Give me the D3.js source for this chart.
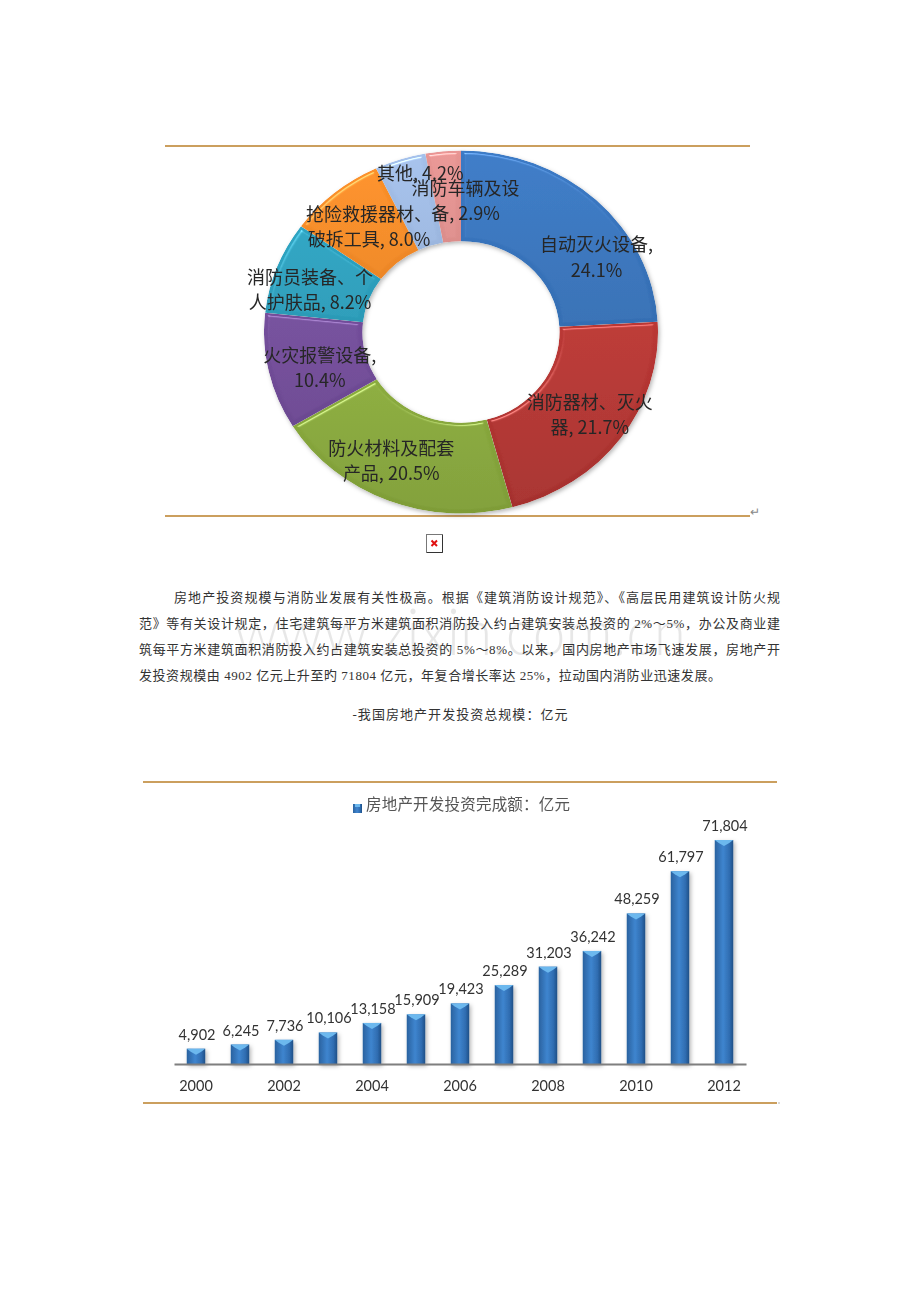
<!DOCTYPE html>
<html lang="zh">
<head>
<meta charset="UTF-8">
<title>消防业与房地产开发投资</title>
<script src="https://cdn.jsdelivr.net/npm/d3@7/dist/d3.min.js"></script>
<style>
    html, body { margin: 0; padding: 0; background: #fff; }
    svg { display: block; }
    .cjk { font-family: "Noto Sans CJK SC", sans-serif; }
    .para { font-family: "Liberation Serif", "Noto Sans CJK SC", serif; font-size: 13px; fill: #333; }
    .num { font-family: Lato, "Noto Sans CJK SC", sans-serif; }
</style>
</head>
<body>
<script>
    // donut data
    const shareNames = ['自动灭火设备', '消防器材、灭火器', '防火材料及配套产品', '火灾报警设备',
        '消防员装备、个人护肤品', '抢险救援器材、破拆工具', '其他', '消防车辆及设备'];
    const shareValues = [24.1, 21.7, 20.5, 10.4, 8.2, 8.0, 4.2, 2.9];
    const shareLabels = [
        ['自动灭火设备,', '24.1%'],
        ['消防器材、灭火', '器, 21.7%'],
        ['防火材料及配套', '产品, 20.5%'],
        ['火灾报警设备,', '10.4%'],
        ['消防员装备、个', '人护肤品, 8.2%'],
        ['抢险救援器材、', '破拆工具, 8.0%'],
        ['其他, 4.2%'],
        ['消防车辆及设', '备, 2.9%']
    ];
    const shareColors = ['#3b76bd', '#c43d3a', '#98bb45', '#7a53a3', '#2fa3c0', '#f28b2a', '#9db8e0', '#dd8f8d'];

    // bar data
    const years = [2000, 2001, 2002, 2003, 2004, 2005, 2006, 2007, 2008, 2009, 2010, 2011, 2012];
    const invest = [4902, 6245, 7736, 10106, 13158, 15909, 19423, 25289, 31203, 36242, 48259, 61797, 71804];
    const yearTicks = [2000, 2002, 2004, 2006, 2008, 2010, 2012];

    const paragraph = [
        '房地产投资规模与消防业发展有关性极高。根据《建筑消防设计规范》、《高层民用建筑设计防火规',
        '范》等有关设计规定，住宅建筑每平方米建筑面积消防投入约占建筑安装总投资的 2%～5%，办公及商业建',
        '筑每平方米建筑面积消防投入约占建筑安装总投资的 5%～8%。以来，国内房地产市场飞速发展，房地产开',
        '发投资规模由 4902 亿元上升至旳 71804 亿元，年复合增长率达 25%，拉动国内消防业迅速发展。'
    ];
    const caption = '-我国房地产开发投资总规模：亿元';
    const legendText = '房地产开发投资完成额：亿元';

    const svg = d3.select('body').append('svg').attr('width', 920).attr('height', 1302);
    const defs = svg.append('defs');

    // soft look, the source picture is a blurred scan
    defs.append('filter').attr('id', 'soft').attr('x', '-5%').attr('y', '-5%').attr('width', '110%').attr('height', '110%')
        .append('feGaussianBlur').attr('stdDeviation', 0.45);

    // bevel for donut slices
    const bevel = defs.append('filter').attr('id', 'bevel')
        .attr('color-interpolation-filters', 'sRGB')
        .attr('x', '-10%').attr('y', '-10%').attr('width', '120%').attr('height', '120%');
    bevel.append('feGaussianBlur').attr('in', 'SourceAlpha').attr('stdDeviation', 2).attr('result', 'b');
    const spec = bevel.append('feSpecularLighting').attr('in', 'b').attr('surfaceScale', 3)
        .attr('specularConstant', 0.6).attr('specularExponent', 30)
        .attr('lighting-color', '#fff').attr('result', 's');
    spec.append('feDistantLight').attr('azimuth', 250).attr('elevation', 50);
    bevel.append('feComposite').attr('in', 's').attr('in2', 'SourceAlpha').attr('operator', 'in').attr('result', 's2');
    bevel.append('feComposite').attr('in', 'SourceGraphic').attr('in2', 's2').attr('result', 'lit')
        .attr('operator', 'arithmetic').attr('k1', 0).attr('k2', 1).attr('k3', 0.6).attr('k4', -0.055);
    bevel.append('feComposite').attr('in', 'lit').attr('in2', 'SourceAlpha').attr('operator', 'in');

    const dropShadow = defs.append('filter').attr('id', 'shade')
        .attr('x', '-20%').attr('y', '-20%').attr('width', '140%').attr('height', '140%');
    dropShadow.append('feDropShadow').attr('dx', 1.5).attr('dy', 2).attr('stdDeviation', 2)
        .attr('flood-color', '#000').attr('flood-opacity', 0.3);

    // gold rules
    const rules = [
        {x1: 165, x2: 750, y: 146},
        {x1: 165, x2: 750, y: 516},
        {x1: 143, x2: 777, y: 782},
        {x1: 143, x2: 777, y: 1103}
    ];
    svg.selectAll('line.rule').data(rules).enter().append('line').attr('class', 'rule')
        .attr('x1', d => d.x1).attr('x2', d => d.x2).attr('y1', d => d.y).attr('y2', d => d.y)
        .attr('stroke', '#cb9f5e').attr('stroke-width', 2);

    // ---- donut ----
    // the ring is a little flattened in the picture, so y gets squeezed
    const rx = 197, ry = 181.5;
    const cx = 461, cy = 332;
    const squeeze = ry / rx;
    const pie = d3.pie().sort(null)(shareValues);
    const arc = d3.arc().innerRadius(rx * 0.5).outerRadius(rx);
    const labelArc = d3.arc().innerRadius(rx * 0.75).outerRadius(rx * 0.75);

    shareColors.forEach((c, i) => {
        const g = defs.append('linearGradient').attr('id', 'slice' + i)
            .attr('gradientUnits', 'userSpaceOnUse')
            .attr('x1', 0).attr('y1', -rx).attr('x2', 0).attr('y2', rx);
        g.append('stop').attr('offset', 0).attr('stop-color', d3.color(c).brighter(0.15));
        g.append('stop').attr('offset', 1).attr('stop-color', d3.color(c).darker(0.45));
    });

    const donut = svg.append('g').attr('filter', 'url(#shade)').append('g').attr('filter', 'url(#soft)');
    donut.selectAll('path').data(pie).enter().append('path')
        .attr('d', arc)
        .attr('transform', `translate(${cx},${cy}) scale(1,${squeeze})`)
        .attr('fill', (d, i) => 'url(#slice' + i + ')')
        .attr('filter', 'url(#bevel)');

    // label nudges from the ring centre, same order as the slices
    const labelShift = [[34, 25], [9, 4], [-15, 3], [3, 7], [-13, 7], [3, 0], [5, -29], [18, 5]];
    const labelG = svg.append('g').attr('filter', 'url(#soft)').attr('class', 'cjk');
    pie.forEach((d, i) => {
        const c = labelArc.centroid(d);
        const x = cx + c[0] + labelShift[i][0];
        const y = cy + c[1] * squeeze + labelShift[i][1];
        const lines = shareLabels[i];
        lines.forEach((t, k) => {
            labelG.append('text')
                .attr('x', x)
                .attr('y', y + (k - (lines.length - 1) / 2) * 25.5 + 6)
                .attr('text-anchor', 'middle')
                .attr('font-size', 18)
                .attr('fill', '#262626')
                .text(t);
        });
    });

    // return mark next to the rule
    svg.append('text').attr('x', 750).attr('y', 516).attr('class', 'cjk')
        .attr('font-size', 12).attr('fill', '#888').text('↵');

    // broken image icon
    const icon = svg.append('g').attr('transform', 'translate(426,534)');
    icon.append('rect').attr('x', 0.5).attr('y', 0.5).attr('width', 16).attr('height', 18)
        .attr('fill', '#fff').attr('stroke', '#777');
    icon.append('path').attr('d', 'M1 18.5H16.5V1').attr('fill', 'none').attr('stroke', '#333');
    icon.append('path').attr('d', 'M5.5 6.5L11 12M11 6.5L5.5 12').attr('stroke', '#e01010').attr('stroke-width', 2);

    // ---- paragraph ----
    svg.append('text').attr('x', 460).attr('y', 655).attr('text-anchor', 'middle')
        .attr('font-family', 'Lato, sans-serif').attr('font-size', 66).attr('font-weight', 300)
        .attr('fill', '#000').attr('opacity', 0.09)
        .attr('textLength', 452).attr('lengthAdjust', 'spacingAndGlyphs')
        .text('www.zixin.com.cn');

    const paraX = [174, 139, 139, 139];
    const paraEnd = [780, 780, 780, 721];
    const paraY = [602, 628, 654, 680];
    svg.selectAll('text.para').data(paragraph).enter().append('text').attr('class', 'para')
        .attr('x', (d, i) => paraX[i])
        .attr('y', (d, i) => paraY[i])
        .attr('textLength', (d, i) => paraEnd[i] - paraX[i])
        .attr('lengthAdjust', 'spacing')
        .text(d => d);
    svg.append('text').attr('class', 'para').attr('x', 352.5).attr('y', 719)
        .attr('textLength', 215).attr('lengthAdjust', 'spacing').text(caption);

    // ---- bars ----
    const x = d3.scaleBand().domain(years).range([174, 746]).paddingInner(0.58).paddingOuter(0.29);
    const y = d3.scaleLinear().domain([0, 71804]).range([1064, 840]);

    const barGrad = defs.append('linearGradient').attr('id', 'bar');
    [[0, '#2a629f'], [0.45, '#3f85cf'], [0.8, '#2f6cb0'], [1, '#1d4f86']].forEach(s => {
        barGrad.append('stop').attr('offset', s[0]).attr('stop-color', s[1]);
    });

    const barG = svg.append('g').attr('filter', 'url(#soft)');
    const bars = barG.append('g').attr('filter', 'url(#shade)');
    bars.selectAll('rect').data(invest).enter().append('rect')
        .attr('x', (d, i) => x(years[i]))
        .attr('y', d => y(d))
        .attr('width', x.bandwidth())
        .attr('height', d => y(0) - y(d))
        .attr('fill', 'url(#bar)');
    // light chevron on the top of each bar
    barG.selectAll('path.cap').data(invest).enter().append('path').attr('class', 'cap')
        .attr('d', (d, i) => {
            const l = x(years[i]), w = x.bandwidth(), t = y(d);
            return `M${l},${t}H${l + w}L${l + w - 4},${t + 3}L${l + w / 2},${t + 6}L${l + 4},${t + 3}Z`;
        })
        .attr('fill', '#6cb8ee');

    const axis = d3.axisBottom(x).tickValues(yearTicks).tickSize(0).tickPadding(17);
    const axisG = svg.append('g').attr('transform', `translate(0,${y(0)})`).attr('filter', 'url(#soft)').call(axis);
    axisG.select('.domain').attr('stroke', '#7f7f7f').attr('stroke-width', 2);
    axisG.selectAll('text').attr('class', 'num').attr('font-size', 14.5).attr('fill', '#333')
        .attr('font-family', 'Lato, sans-serif');

    const fmt = d3.format(',');
    barG.selectAll('text.val').data(invest).enter().append('text').attr('class', 'num val')
        .attr('x', (d, i) => x(years[i]) + x.bandwidth() / 2 + 1)
        .attr('y', d => y(d) - 9)
        .attr('text-anchor', 'middle')
        .attr('font-size', 14.5)
        .attr('fill', '#333')
        .text(d => fmt(d));

    // legend
    const legend = svg.append('g').attr('filter', 'url(#soft)');
    legend.append('rect').attr('x', 353).attr('y', 804).attr('width', 9).attr('height', 9).attr('fill', 'url(#bar)');
    legend.append('rect').attr('x', 355).attr('y', 804).attr('width', 5).attr('height', 3).attr('fill', '#6cb8ee');
    legend.append('text').attr('class', 'cjk').attr('x', 366).attr('y', 810)
        .attr('font-size', 15.5).attr('fill', '#555')
        .attr('textLength', 204).attr('lengthAdjust', 'spacing')
        .text(legendText);

    svg.append('circle').attr('cx', 779).attr('cy', 1103).attr('r', 0.7).attr('fill', '#999');
</script>
</body>
</html>
